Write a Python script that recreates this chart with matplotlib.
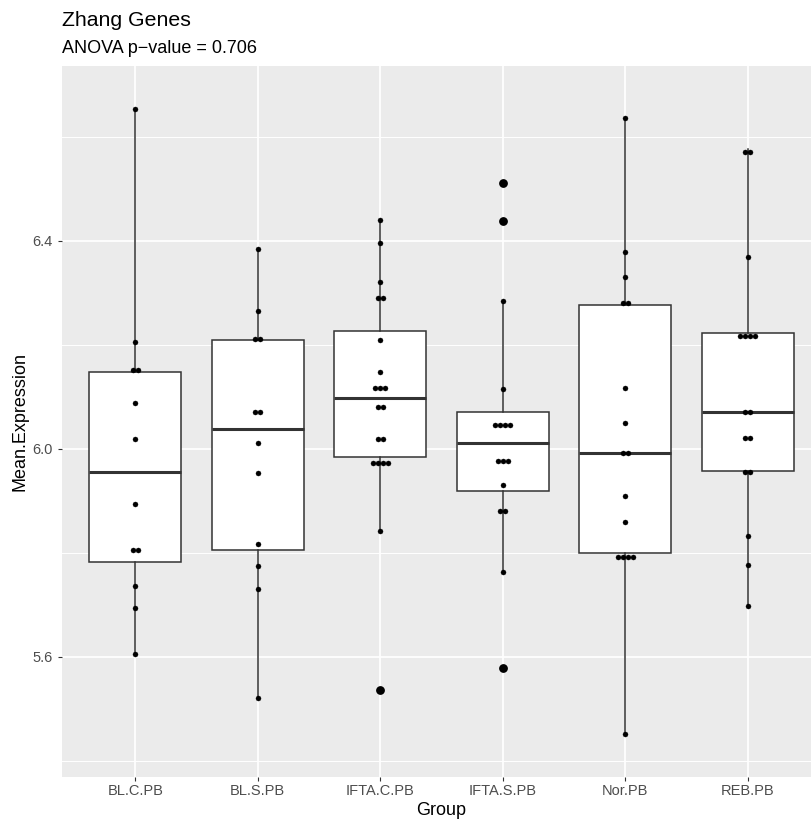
import matplotlib
matplotlib.use("Agg")
import matplotlib.pyplot as plt
from matplotlib.ticker import FixedLocator

plt.rcParams['font.family'] = ['Liberation Sans', 'DejaVu Sans']

# ---------------- data ----------------
groups = ["BL.C.PB", "BL.S.PB", "IFTA.C.PB", "IFTA.S.PB", "Nor.PB", "REB.PB"]

bl_c_pb = [6.654, 6.206, 6.144, 6.158, 6.089, 6.019, 5.894, 5.798, 5.812, 5.736, 5.694, 5.606]
bl_s_pb = [6.384, 6.265, 6.206, 6.218, 6.065, 6.077, 6.011, 5.953, 5.817, 5.775, 5.731, 5.522]
ifta_c_pb = [6.441, 6.397, 6.322, 6.284, 6.296, 6.209, 6.149, 6.110, 6.117, 6.124,
             6.076, 6.086, 6.014, 6.024, 5.962, 5.970, 5.978, 5.986, 5.842, 5.536]
ifta_s_pb = [6.511, 6.439, 6.285, 6.115, 6.038, 6.044, 6.050, 6.056,
             5.970, 5.977, 5.984, 5.930, 5.876, 5.886, 5.764, 5.579]
nor_pb = [6.637, 6.379, 6.331, 6.272, 6.290, 6.117, 6.050, 5.988, 5.998,
          5.909, 5.860, 5.782, 5.788, 5.796, 5.802, 5.452]
reb_pb = [6.566, 6.576, 6.369, 6.210, 6.215, 6.221, 6.226, 6.067, 6.077,
          6.017, 6.027, 5.951, 5.961, 5.833, 5.777, 5.698]

series = [bl_c_pb, bl_s_pb, ifta_c_pb, ifta_s_pb, nor_pb, reb_pb]

title = "Zhang Genes"
subtitle = "ANOVA p\u2212value = 0.706"
y_major = [5.6, 6.0, 6.4]
y_minor = [5.4, 5.8, 6.2, 6.6]


def dot_bins(vals, bw):
    """ggplot-like 'dotdensity' binning: returns (center, count) per bin."""
    v = sorted(vals)
    out = []
    i = 0
    while i < len(v):
        j = i
        while j + 1 < len(v) and v[j + 1] < v[i] + bw:
            j += 1
        out.append(((v[i] + v[j]) / 2.0, j - i + 1))
        i = j + 1
    return out


# ---------------- figure ----------------
W, H = 811, 821
fig = plt.figure(figsize=(W / 100, H / 100), dpi=100)
left_px, right_px, top_px, bottom_px = 61.8, 811, 66, 776.7
ax_w, ax_h = right_px - left_px, bottom_px - top_px
ax = fig.add_axes([left_px / W, 1 - bottom_px / H, ax_w / W, ax_h / H])

ax.set_facecolor("#EBEBEB")
for s in ax.spines.values():
    s.set_visible(False)

dark = "#333333"
positions = list(range(len(groups)))
ax.boxplot(series, positions=positions, widths=0.75, whis=1.5,
           patch_artist=True, showcaps=False,
           boxprops=dict(facecolor="white", edgecolor=dark, linewidth=1.1),
           medianprops=dict(color=dark, linewidth=2.2),
           whiskerprops=dict(color=dark, linewidth=1.1),
           flierprops=dict(marker="o", markerfacecolor="black",
                           markeredgecolor="black", markersize=5.3),
           zorder=3)

# dot plot (stacked, centered)
dx = 0.040
for pos, vals in zip(positions, series):
    for center, n in dot_bins(vals, 0.026):
        xs = [pos + (k - (n - 1) / 2.0) * dx for k in range(n)]
        ax.plot(xs, [center] * n, linestyle="none", marker="o",
                markersize=3.6, markerfacecolor="black",
                markeredgecolor="black", markeredgewidth=0.3, zorder=5)

# axes limits and ticks
unit = 122.5
ax.set_xlim(-0.6, -0.6 + ax_w / unit)
ax.set_ylim(5.3698, 6.7365)
ax.set_xticks(positions)
ax.set_xticklabels(groups)
ax.yaxis.set_major_locator(FixedLocator(y_major))
ax.yaxis.set_minor_locator(FixedLocator(y_minor))
ax.set_yticklabels(["%.1f" % v for v in y_major])

ax.grid(which="major", color="white", linewidth=1.25, zorder=0)
ax.grid(which="minor", axis="y", color="white", linewidth=0.7, zorder=0)
ax.set_axisbelow(True)

ax.tick_params(axis="both", which="major", length=2.8, width=0.8,
               color=dark, labelcolor="#4D4D4D", labelsize=10.5)
ax.tick_params(axis="x", which="major", pad=2.2)
ax.tick_params(axis="y", which="major", pad=3.6)
ax.tick_params(axis="y", which="minor", length=0)

ax.set_xlabel("Group", fontsize=13, color="black", va="baseline")
ax.xaxis.set_label_coords((441.5 - left_px) / ax_w, -(815 - bottom_px) / ax_h)
ax.set_ylabel("Mean.Expression", fontsize=13, color="black", va="center")
ax.yaxis.set_label_coords(-(left_px - 20) / ax_w, 0.5)

fig.text(left_px / W, 1 - 26 / H, title, fontsize=15.3, color="black",
         ha="left", va="baseline")
fig.text(left_px / W, 1 - 52.7 / H, subtitle, fontsize=13, color="black",
         ha="left", va="baseline")

fig.savefig("out.png", dpi=100, facecolor="white")
